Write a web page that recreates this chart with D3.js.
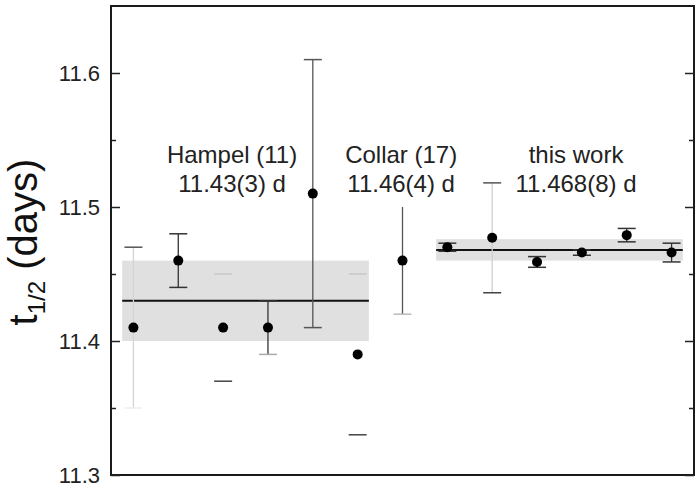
<!DOCTYPE html>
<html><head><meta charset="utf-8">
<script src="https://cdn.jsdelivr.net/npm/d3@7"></script>
<style>body{margin:0;background:#fff}svg{display:block}</style>
</head><body>
<svg id="c" width="700" height="489"></svg>
<script>
// ---- data ----
const measIndex = [0,1,2,3,4,5,6,7,8,9,10,11,12];
const halfLife  = [11.41,11.46,11.41,11.41,11.51,11.39,11.46,11.470,11.477,11.459,11.466,11.479,11.466];
const halfErr   = [0.06,0.02,0.04,0.02,0.10,0.06,0.04,0.003,0.041,0.004,0.002,0.005,0.007];
const groupNames = ["Hampel (11)","Collar (17)","this work"];
const groupValues = ["11.43(3) d","11.46(4) d","11.468(8) d"];
const groupCenter = [2.2, 5.97, 9.87];
const meanValues = [11.43, 11.468];
const meanErrs   = [0.03, 0.008];
const meanFrom   = [-0.25, 6.75];
const meanTo     = [5.25, 12.25];
const yTicks = [11.3, 11.4, 11.5, 11.6];
const yMinor = [11.35, 11.45, 11.55];
// styles per error bar: [line, top cap, bottom cap]
const barShade = [
  ["#d4d4d4","#555","#eee"],["#333","#333","#333"],["none","#c8c8c8","#444"],
  ["#333","#333","#aaa"],["#555","#555","#555"],["none","#c8c8c8","#444"],
  ["#555","none","#bbb"],["#333","#333","#333"],["#cfcfcf","#555","#444"],
  ["#333","#333","#333"],["#333","#333","#333"],["#333","#333","#333"],["#333","#333","#333"]];

const svg = d3.select("#c");
const L=111, R=694, T=6, B=475;
const x = d3.scaleLinear().domain([-0.5,12.5]).range([L,R]);
const y = d3.scaleLinear().domain([11.3,11.65]).range([B,T]);
const font = "'Liberation Sans', Arial, sans-serif";

// bands
meanValues.forEach((m,i)=>{
  svg.append("rect").attr("x",x(meanFrom[i])).attr("width",x(meanTo[i])-x(meanFrom[i]))
    .attr("y",y(m+meanErrs[i])).attr("height",y(m-meanErrs[i])-y(m+meanErrs[i]))
    .attr("fill","#e0e0e0");
});
meanValues.forEach((m,i)=>{
  svg.append("line").attr("x1",x(meanFrom[i])).attr("x2",x(meanTo[i]))
    .attr("y1",y(m)).attr("y2",y(m)).attr("stroke","#111").attr("stroke-width",2);
});

// error bars
const cap = 9;
measIndex.forEach((k,i)=>{
  const cx = x(k), v = halfLife[i], e = halfErr[i], s = barShade[i];
  if(s[0]!=="none") svg.append("line").attr("x1",cx).attr("x2",cx)
    .attr("y1",y(v+e)).attr("y2",y(v-e)).attr("stroke",s[0]).attr("stroke-width",1.3);
  if(s[1]!=="none") svg.append("line").attr("x1",cx-cap).attr("x2",cx+cap)
    .attr("y1",y(v+e)).attr("y2",y(v+e)).attr("stroke",s[1]).attr("stroke-width",1.5);
  if(s[2]!=="none") svg.append("line").attr("x1",cx-cap).attr("x2",cx+cap)
    .attr("y1",y(v-e)).attr("y2",y(v-e)).attr("stroke",s[2]).attr("stroke-width",1.5);
});
svg.selectAll("circle.pt").data(measIndex).enter().append("circle")
  .attr("cx",d=>x(d)).attr("cy",(d,i)=>y(halfLife[i])).attr("r",5).attr("fill","#000");

// frame
svg.append("rect").attr("x",L).attr("y",T).attr("width",R-L).attr("height",B-T)
  .attr("fill","none").attr("stroke","#1a1a1a").attr("stroke-width",2);

// axes (inward ticks, left & right)
const yaxL = d3.axisRight(y).tickValues(yTicks).tickSize(9).tickFormat("");
const yaxLm = d3.axisRight(y).tickValues(yMinor).tickSize(5).tickFormat("");
const yaxR = d3.axisLeft(y).tickValues(yTicks).tickSize(9).tickFormat("");
const yaxRm = d3.axisLeft(y).tickValues(yMinor).tickSize(5).tickFormat("");
[[yaxL,L],[yaxLm,L],[yaxR,R],[yaxRm,R]].forEach(([a,px])=>{
  const g = svg.append("g").attr("transform",`translate(${px},0)`).call(a);
  g.select(".domain").remove();
  g.selectAll("line").attr("stroke","#222").attr("stroke-width",1.5);
});
// tick labels
svg.selectAll("text.yl").data(yTicks).enter().append("text")
  .attr("x",100).attr("y",d=>y(d)).attr("dy","0.36em").attr("text-anchor","end")
  .attr("font-family",font).attr("font-size",22).attr("fill","#222").text(d=>d.toFixed(1));

// y label
const yl = svg.append("text").attr("transform","translate(37,242) rotate(-90)")
  .attr("text-anchor","middle").attr("font-family",font).attr("font-size",40).attr("fill","#111");
yl.append("tspan").text("t");
yl.append("tspan").attr("font-size",24).attr("dy",8).text("1/2");
yl.append("tspan").attr("dy",-8).text(" (days)");

// group annotations
groupNames.forEach((n,i)=>{
  const cx = x(groupCenter[i]);
  svg.append("text").attr("x",cx).attr("y",163).attr("text-anchor","middle")
    .attr("font-family",font).attr("font-size",24).attr("fill","#222").text(n);
  svg.append("text").attr("x",cx).attr("y",192).attr("text-anchor","middle")
    .attr("font-family",font).attr("font-size",24).attr("fill","#222").text(groupValues[i]);
});
</script>
</body></html>
